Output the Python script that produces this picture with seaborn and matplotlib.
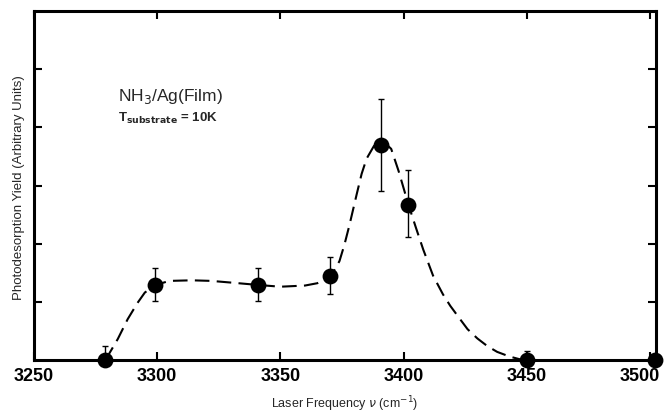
import matplotlib
matplotlib.use("Agg")
import matplotlib.pyplot as plt
import matplotlib.transforms as mtrans
import seaborn as sns
import pandas as pd

# measured points
freq = [3279, 3299, 3341, 3370, 3391, 3402, 3450, 3502]
yield_ = [0.0, 1.29, 1.29, 1.44, 3.69, 2.67, 0.0, 0.0]
err_low = [0.0, 0.28, 0.28, 0.31, 0.79, 0.55, 0.0, 0.0]
err_high = [0.24, 0.29, 0.29, 0.33, 0.79, 0.59, 0.15, 0.0]

# smooth guide curve
curve_x = [3279, 3284, 3288, 3292, 3295, 3299.3, 3305, 3314, 3322, 3333, 3341,
           3350, 3360, 3365, 3368, 3370, 3372, 3374, 3376, 3378, 3381, 3383,
           3385, 3388, 3391, 3393, 3395, 3398, 3402, 3405, 3408, 3412, 3416,
           3419, 3423, 3426, 3430, 3434, 3438, 3443, 3447, 3450]
curve_y = [0.0, 0.36, 0.70, 0.98, 1.16, 1.29, 1.36, 1.37, 1.36, 1.32, 1.29,
           1.26, 1.28, 1.32, 1.38, 1.44, 1.55, 1.70, 1.98, 2.31, 2.85, 3.20,
           3.46, 3.68, 3.73, 3.71, 3.63, 3.25, 2.67, 2.28, 1.90, 1.45, 1.13,
           0.93, 0.70, 0.53, 0.37, 0.24, 0.14, 0.06, 0.015, 0.0]

xticks = [3250, 3300, 3350, 3400, 3450, 3500]
yticks = [1, 2, 3, 4, 5]

sns.set_theme(style="white")
plt.rcParams['font.family'] = ['Liberation Sans', 'DejaVu Sans']

fig = plt.figure(figsize=(6.64, 4.16), dpi=100)
ax = fig.add_axes([34/664, 1-360/416, (656-34)/664, (360-11)/416])

curve = pd.DataFrame({"x": curve_x, "y": curve_y})
sns.lineplot(data=curve, x="x", y="y", ax=ax, color="black", lw=1.5,
             dashes=False, sort=False)
ax.lines[-1].set_dashes([7, 3.5])

ax.errorbar(freq, yield_, yerr=[err_low, err_high], fmt="none",
            ecolor="black", elinewidth=1.0, capsize=2.5, capthick=1.0,
            clip_on=False)
pts = pd.DataFrame({"x": freq, "y": yield_})
sns.scatterplot(data=pts, x="x", y="y", ax=ax, color="black", s=130,
                edgecolor="black", linewidth=0, zorder=5, clip_on=False)

ax.set_xlim(3250, 3502.5)
ax.set_ylim(0, 6)
ax.set_xticks(xticks)
ax.set_yticks(yticks)
ax.set_yticklabels([])
ax.set_xticklabels([str(t) for t in xticks], fontsize=13, fontweight="bold")
ax.tick_params(axis="both", direction="in", length=6, width=1.5,
               top=True, right=True, bottom=True, left=True, colors="black",
               labelcolor="black", pad=6)
lbl = ax.get_xticklabels()[-1]
lbl.set_transform(lbl.get_transform() +
                  mtrans.ScaledTranslation(-10/100, 0, fig.dpi_scale_trans))
for s in ax.spines.values():
    s.set_linewidth(2.2)
    s.set_color("black")

ax.set_xlabel("Laser Frequency $\\nu$ (cm$^{-1}$)", fontsize=9)
ax.xaxis.set_label_coords((345-34)/622, -(404-360)/349)
ax.xaxis.label.set_verticalalignment("center")
ax.set_ylabel("Photodesorption Yield (Arbitrary Units)", fontsize=9.5)
ax.yaxis.set_label_coords(-(34-19)/622, (360-188)/349)
ax.yaxis.label.set_verticalalignment("center")

ax.text(3284, 4.45, "NH$_3$/Ag(Film)", fontsize=12.5)
ax.text(3284, 4.1, "T$_{\\mathbf{substrate}}$ = 10K", fontsize=9.5,
        fontweight="bold")

fig.savefig("out.png", dpi=100)
